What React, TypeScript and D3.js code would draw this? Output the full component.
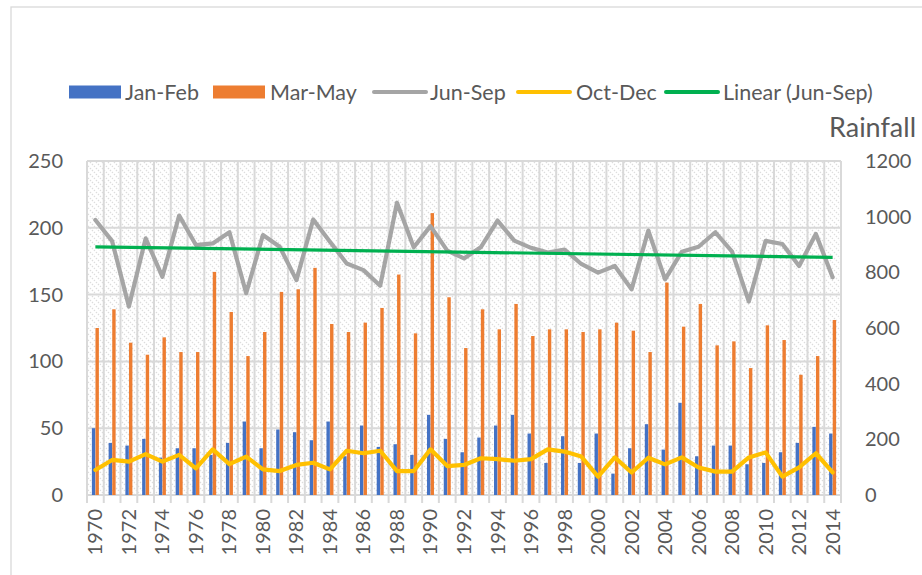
import React from "react";
import * as d3 from "d3";

const years: number[] = [
  1970, 1971, 1972, 1973, 1974, 1975, 1976, 1977, 1978, 1979,
  1980, 1981, 1982, 1983, 1984, 1985, 1986, 1987, 1988, 1989,
  1990, 1991, 1992, 1993, 1994, 1995, 1996, 1997, 1998, 1999,
  2000, 2001, 2002, 2003, 2004, 2005, 2006, 2007, 2008, 2009,
  2010, 2011, 2012, 2013, 2014,
];

const janFeb: number[] = [
  50, 39, 37, 42, 28, 35, 35, 30, 39, 55,
  35, 49, 47, 41, 55, 29, 52, 36, 38, 30,
  60, 42, 32, 43, 52, 60, 46, 24, 44, 24,
  46, 16, 35, 53, 34, 69, 29, 37, 37, 23,
  24, 32, 39, 51, 46,
];

const marMay: number[] = [
  125, 139, 114, 105, 118, 107, 107, 167, 137, 104,
  122, 152, 154, 170, 128, 122, 129, 140, 165, 121,
  211, 148, 110, 139, 124, 143, 119, 124, 124, 122,
  124, 129, 123, 107, 159, 126, 143, 112, 115, 95,
  127, 116, 90, 104, 131,
];

const junSep: number[] = [
  988, 912, 677, 922, 784, 1004, 898, 904, 944, 725,
  934, 892, 772, 990, 910, 832, 808, 752, 1050, 890,
  966, 878, 850, 890, 986, 914, 888, 871, 882, 830,
  799, 823, 739, 950, 775, 874, 892, 944, 874, 695,
  913, 902, 823, 938, 782,
];

const octDec: number[] = [
  90, 126, 120, 147, 120, 144, 96, 164, 111, 138,
  92, 86, 108, 116, 92, 159, 150, 159, 86, 86,
  164, 104, 108, 132, 129, 123, 129, 164, 156, 138,
  66, 135, 81, 134, 110, 135, 99, 84, 84, 135,
  153, 66, 99, 150, 81,
];

const leftTicks: number[] = [0, 50, 100, 150, 200, 250];
const rightTicks: number[] = [0, 200, 400, 600, 800, 1000, 1200];

const legendItems = [
  { label: "Jan-Feb", kind: "rect", color: "#4472C4", x: 69, tx: 125 },
  { label: "Mar-May", kind: "rect", color: "#ED7D31", x: 213, tx: 270 },
  { label: "Jun-Sep", kind: "line", color: "#A5A5A5", x: 373, tx: 430 },
  { label: "Oct-Dec", kind: "line", color: "#FFC000", x: 517, tx: 576 },
  { label: "Linear (Jun-Sep)", kind: "line", color: "#00B050", x: 665, tx: 723 },
];

export default function App() {
  const W = 922, H = 575;
  const left = 87, right = 841, top = 161, bottom = 495;
  const font = "Lato, 'Open Sans', sans-serif";
  const textColor = "#595959";
  const grid = "#d9d9d9";

  const x = d3.scaleBand<number>().domain(years).range([left, right]).padding(0);
  const yL = d3.scaleLinear().domain([0, 250]).range([bottom, top]);
  const yR = d3.scaleLinear().domain([0, 1200]).range([bottom, top]);
  const cx = (y: number) => (x(y) as number) + x.bandwidth() / 2;

  // trend (least squares on index)
  const n = junSep.length;
  const idx = d3.range(n);
  const mx = d3.mean(idx) as number;
  const my = d3.mean(junSep) as number;
  const slope =
    d3.sum(idx.map((i) => (i - mx) * (junSep[i] - my))) /
    d3.sum(idx.map((i) => (i - mx) * (i - mx)));
  const icpt = my - slope * mx;

  const lineR = d3
    .line<number>()
    .x((_, i) => cx(years[i]))
    .y((v) => yR(v))
    .curve(d3.curveLinear);

  const bw = 3.4;

  return (
    <svg width={W} height={H} style={{ position: "absolute", left: 0, top: 0 }}>
      <defs>
        <pattern id="hatch" width="6" height="6" patternUnits="userSpaceOnUse">
          <rect width="6" height="6" fill="#ffffff" />
          <path d="M0,0 L6,6 M-1,5 L1,7 M5,-1 L7,1" stroke="#dcdcdc" strokeWidth="1.2" strokeDasharray="1.4,1.4" />
        </pattern>
      </defs>
      <rect x={0} y={0} width={W} height={H} fill="#fff" />
      <rect x={11} y={7} width={W + 20} height={H + 20} fill="#fff" stroke={grid} strokeWidth={1.3} />

      {/* plot area */}
      <rect x={left} y={top} width={right - left} height={bottom - top} fill="url(#hatch)" />
      {leftTicks.map((t) => (
        <line key={"h" + t} x1={left} x2={right} y1={yL(t)} y2={yL(t)} stroke={grid} strokeWidth={2} />
      ))}
      {years.map((yr) => (
        <line key={"v" + yr} x1={x(yr) as number} x2={x(yr) as number} y1={top} y2={bottom} stroke={grid} strokeWidth={2} />
      ))}
      <line x1={right} x2={right} y1={top} y2={bottom} stroke={grid} strokeWidth={2} />

      {/* x ticks */}
      {years.map((yr) => (
        <line key={"t" + yr} x1={x(yr) as number} x2={x(yr) as number} y1={bottom} y2={bottom + 8} stroke={grid} strokeWidth={2} />
      ))}
      <line x1={right} x2={right} y1={bottom} y2={bottom + 8} stroke={grid} strokeWidth={2} />

      {/* bars */}
      {years.map((yr, i) => (
        <rect key={"jf" + yr} x={cx(yr) - bw - 0.1} y={yL(janFeb[i])} width={bw} height={bottom - yL(janFeb[i])} fill="#4472C4" />
      ))}
      {years.map((yr, i) => (
        <rect key={"mm" + yr} x={cx(yr) + 0.1} y={yL(marMay[i])} width={bw} height={bottom - yL(marMay[i])} fill="#ED7D31" />
      ))}

      {/* lines */}
      <path d={lineR(junSep) as string} fill="none" stroke="#A5A5A5" strokeWidth={4.2} strokeLinejoin="round" strokeLinecap="round" />
      <path d={lineR(octDec) as string} fill="none" stroke="#FFC000" strokeWidth={4.2} strokeLinejoin="round" strokeLinecap="round" />
      <line
        x1={cx(years[0])}
        x2={cx(years[n - 1])}
        y1={yR(icpt)}
        y2={yR(icpt + slope * (n - 1))}
        stroke="#00B050"
        strokeWidth={3.2}
      />

      {/* left axis labels */}
      {leftTicks.map((t) => (
        <text key={"l" + t} x={63} y={yL(t)} dy="0.35em" textAnchor="end" fontFamily={font} fontSize={20} fill={textColor}>
          {t}
        </text>
      ))}
      {/* right axis labels */}
      {rightTicks.map((t) => (
        <text key={"r" + t} x={865} y={yR(t)} dy="0.35em" textAnchor="start" fontFamily={font} fontSize={20} fill={textColor}>
          {t}
        </text>
      ))}
      <text x={829} y={137} fontFamily={font} fontSize={27} fill={textColor}>
        Rainfall
      </text>

      {/* x labels */}
      {years
        .filter((_, i) => i % 2 === 0)
        .map((yr) => (
          <text
            key={"xl" + yr}
            transform={`translate(${cx(yr)},${509}) rotate(-90)`}
            dy="0.35em"
            textAnchor="end"
            fontFamily={font}
            fontSize={20}
            fill={textColor}
          >
            {yr}
          </text>
        ))}

      {/* legend */}
      {legendItems.map((it) => (
        <g key={it.label}>
          {it.kind === "rect" ? (
            <rect x={it.x} y={85.5} width={52} height={13} fill={it.color} />
          ) : (
            <line x1={it.x + 1} x2={it.x + 53} y1={92} y2={92} stroke={it.color} strokeWidth={4} strokeLinecap="round" />
          )}
          <text x={it.tx} y={92} dy="0.35em" fontFamily={font} fontSize={21.5} fill={textColor}>
            {it.label}
          </text>
        </g>
      ))}
    </svg>
  );
}
